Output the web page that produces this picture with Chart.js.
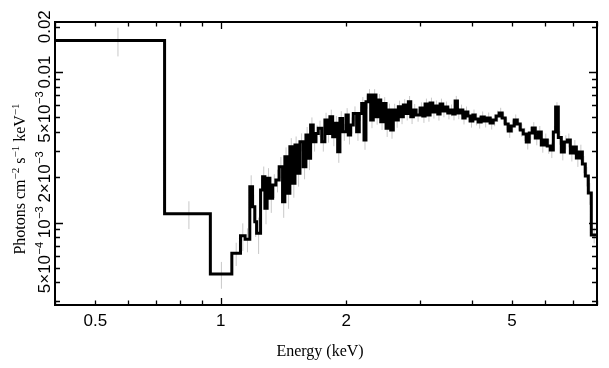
<!DOCTYPE html>
<html><head><meta charset="utf-8">
<script src="https://cdn.jsdelivr.net/npm/chart.js@4.4.1/dist/chart.umd.min.js"></script>
<style>html,body{margin:0;padding:0;background:#fff;}#wrap{width:609px;height:368px;position:relative;}</style>
</head><body><div id="wrap"><canvas id="c" width="609" height="368"></canvas></div>
<script>
// Bin edges (keV)
const binEdges = [0.4, 0.733, 0.944, 1.063, 1.115, 1.144, 1.174, 1.192, 1.207, 1.219, 1.246, 1.260, 1.276, 1.292, 1.312, 1.332, 1.356, 1.381, 1.407, 1.425, 1.444, 1.465, 1.488, 1.507, 1.526, 1.549, 1.577, 1.601, 1.622, 1.643, 1.667, 1.692, 1.714, 1.747, 1.778, 1.801, 1.828, 1.856, 1.880, 1.908, 1.932, 1.961, 1.998, 2.023, 2.050, 2.080, 2.119, 2.150, 2.179, 2.207, 2.231, 2.260, 2.290, 2.323, 2.358, 2.389, 2.421, 2.456, 2.493, 2.524, 2.558, 2.595, 2.634, 2.668, 2.704, 2.743, 2.784, 2.820, 2.858, 2.899, 2.943, 3.009, 3.054, 3.093, 3.140, 3.180, 3.228, 3.269, 3.318, 3.361, 3.411, 3.455, 3.507, 3.552, 3.606, 3.652, 3.699, 3.754, 3.811, 3.860, 3.918, 3.968, 4.028, 4.079, 4.148, 4.217, 4.288, 4.360, 4.433, 4.507, 4.582, 4.659, 4.737, 4.817, 4.897, 4.979, 5.063, 5.148, 5.234, 5.322, 5.411, 5.501, 5.594, 5.687, 5.783, 5.880, 5.978, 6.078, 6.180, 6.284, 6.364, 6.460, 6.568, 6.678, 6.790, 6.904, 7.020, 7.137, 7.257, 7.378, 7.499, 7.625, 7.752, 8.0];
// Unfolded flux per bin (photons cm^-2 s^-1 keV^-1)
const flux = [0.0162, 1.144e-3, 0.455e-3, 0.624e-3, 0.817e-3, 0.774e-3, 1.729e-3, 1.273e-3, 1.012e-3, 0.848e-3,
 1.644e-3, 2.014e-3, 1.243e-3, 1.966e-3, 1.448e-3, 1.774e-3, 1.915e-3, 2.347e-3, 1.374e-3, 2.735e-3,
 1.563e-3, 3.186e-3, 1.821e-3, 3.270e-3, 2.122e-3, 3.440e-3, 2.347e-3, 3.811e-3, 2.669e-3, 4.441e-3,
 3.440e-3, 3.911e-3, 4.223e-3, 3.440e-3, 4.793e-3, 3.911e-3, 5.041e-3, 3.713e-3, 4.558e-3, 2.952e-3,
 4.920e-3, 4.008e-3, 5.174e-3, 3.811e-3, 4.441e-3, 5.311e-3, 4.008e-3, 5.311e-3, 6.186e-3, 3.530e-3,
 6.339e-3, 7.025e-3, 4.793e-3, 7.025e-3, 5.041e-3, 6.507e-3, 4.670e-3, 6.186e-3, 4.223e-3, 5.585e-3,
 4.114e-3, 5.585e-3, 4.793e-3, 5.873e-3, 5.041e-3, 6.027e-3, 5.311e-3, 6.339e-3, 5.041e-3, 5.585e-3,
 5.174e-3, 5.758e-3, 5.095e-3, 6.120e-3, 5.174e-3, 6.215e-3, 5.417e-3, 5.935e-3, 5.253e-3, 6.120e-3,
 5.500e-3, 5.846e-3, 5.335e-3, 5.585e-3, 5.253e-3, 6.408e-3, 5.335e-3, 5.585e-3, 4.943e-3, 5.417e-3,
 5.095e-3, 4.721e-3, 5.174e-3, 4.868e-3, 4.649e-3, 5.018e-3, 4.721e-3, 4.943e-3, 4.579e-3, 4.793e-3,
 5.095e-3, 5.335e-3, 4.943e-3, 4.510e-3, 4.052e-3, 4.373e-3, 4.793e-3, 4.510e-3, 4.114e-3, 3.869e-3,
 3.424e-3, 3.929e-3, 4.242e-3, 3.639e-3, 3.990e-3, 3.270e-3, 3.530e-3, 3.221e-3, 3.030e-3, 3.990e-3,
 5.846e-3, 3.667e-3, 2.938e-3, 3.424e-3, 3.530e-3, 2.893e-3, 3.172e-3, 2.681e-3, 2.938e-3, 2.445e-3,
 2.036e-3, 1.570e-3, 0.826e-3];
// 1-sigma error per bin
const fluxErr = [3.5e-3, 0.24e-3, 0.092e-3, 0.11e-3, 0.17e-3, 0.14e-3, 0.33e-3, 0.26e-3, 0.21e-3, 0.23e-3,
 0.30e-3, 0.34e-3, 0.27e-3, 0.33e-3, 0.29e-3, 0.32e-3, 0.33e-3, 0.38e-3, 0.30e-3, 0.42e-3,
 0.33e-3, 0.45e-3, 0.36e-3, 0.46e-3, 0.39e-3, 0.47e-3, 0.41e-3, 0.50e-3, 0.44e-3, 0.55e-3,
 0.48e-3, 0.51e-3, 0.53e-3, 0.48e-3, 0.57e-3, 0.52e-3, 0.58e-3, 0.50e-3, 0.55e-3, 0.46e-3,
 0.57e-3, 0.52e-3, 0.58e-3, 0.51e-3, 0.55e-3, 0.60e-3, 0.52e-3, 0.59e-3, 0.64e-3, 0.49e-3,
 0.64e-3, 0.68e-3, 0.56e-3, 0.67e-3, 0.57e-3, 0.63e-3, 0.55e-3, 0.62e-3, 0.52e-3, 0.58e-3,
 0.51e-3, 0.57e-3, 0.53e-3, 0.58e-3, 0.54e-3, 0.58e-3, 0.55e-3, 0.59e-3, 0.53e-3, 0.55e-3,
 0.50e-3, 0.53e-3, 0.50e-3, 0.54e-3, 0.50e-3, 0.54e-3, 0.51e-3, 0.53e-3, 0.50e-3, 0.53e-3,
 0.50e-3, 0.52e-3, 0.49e-3, 0.50e-3, 0.48e-3, 0.53e-3, 0.48e-3, 0.49e-3, 0.46e-3, 0.48e-3,
 0.46e-3, 0.45e-3, 0.46e-3, 0.45e-3, 0.44e-3, 0.45e-3, 0.44e-3, 0.44e-3, 0.43e-3, 0.43e-3,
 0.44e-3, 0.45e-3, 0.43e-3, 0.42e-3, 0.40e-3, 0.41e-3, 0.43e-3, 0.42e-3, 0.40e-3, 0.39e-3,
 0.37e-3, 0.39e-3, 0.40e-3, 0.38e-3, 0.39e-3, 0.36e-3, 0.37e-3, 0.36e-3, 0.35e-3, 0.39e-3,
 0.46e-3, 0.38e-3, 0.35e-3, 0.37e-3, 0.37e-3, 0.35e-3, 0.36e-3, 0.34e-3, 0.35e-3, 0.32e-3,
 0.30e-3, 0.26e-3, 0.10e-3];

const xTickValues = [0.5, 1, 2, 5];
const xTickLabels = ['0.5', '1', '2', '5'];
const yTickValues = [5e-4, 1e-3, 2e-3, 5e-3, 0.01, 0.02];
const yTickBase = ['5×10', '10', '2×10', '5×10', '0.01', '0.02'];
const yTickSup = ['−4', '−3', '−3', '−3', '', ''];
const xTitle = 'Energy (keV)';
const yTitleText = ['Photons cm', '−2', ' s', '−1', ' keV', '−1'];

const n = Math.min(flux.length, binEdges.length - 1);
const stepData = [];
for (let i = 0; i < n; i++) stepData.push({x: binEdges[i], y: flux[i]});
stepData.push({x: binEdges[n], y: flux[n - 1]});
const errData = [];
for (let i = 0; i < n; i++) {
  const xc = (binEdges[i] + binEdges[i + 1]) / 2;
  errData.push({x: xc, y: flux[i] - fluxErr[i]}, {x: xc, y: flux[i] + fluxErr[i]}, {x: xc, y: null});
}

const SANS = '"Liberation Sans", Arial, Helvetica, sans-serif';
const SERIF = '"Liberation Serif", "Times New Roman", serif';

const framePlugin = {
  id: 'frame',
  afterDraw(chart) {
    const ctx = chart.ctx, a = chart.chartArea;
    const xs = chart.scales.x, ys = chart.scales.y;
    ctx.save();
    ctx.strokeStyle = '#000';
    ctx.lineWidth = 1.3;
    for (let e = -1; e <= 1; e++) {
      for (let m = 1; m <= 9; m++) {
        const v = m * Math.pow(10, e);
        if (v < xs.min - 1e-9 || v > xs.max + 1e-9) continue;
        const px = Math.round(xs.getPixelForValue(v)) + 0.5;
        const L = (m === 1) ? 7 : 4.5;
        ctx.beginPath();
        ctx.moveTo(px, a.bottom); ctx.lineTo(px, a.bottom - L);
        ctx.moveTo(px, a.top); ctx.lineTo(px, a.top + L);
        ctx.stroke();
      }
    }
    for (let e = -4; e <= -1; e++) {
      for (let m = 1; m <= 9; m++) {
        const v = m * Math.pow(10, e);
        if (v < ys.min || v > ys.max) continue;
        const py = Math.round(ys.getPixelForValue(v)) + 0.5;
        const L = (m === 1) ? 8 : 5;
        ctx.beginPath();
        ctx.moveTo(a.left, py); ctx.lineTo(a.left + L, py);
        ctx.moveTo(a.right, py); ctx.lineTo(a.right - L, py);
        ctx.stroke();
      }
    }
    ctx.lineWidth = 2;
    ctx.strokeRect(a.left, a.top, a.right - a.left, a.bottom - a.top);

    ctx.fillStyle = '#000';
    ctx.font = '17px ' + SANS;
    ctx.textAlign = 'center';
    ctx.textBaseline = 'alphabetic';
    xTickValues.forEach((v, i) => {
      ctx.fillText(xTickLabels[i], xs.getPixelForValue(v), 325.5);
    });
    ctx.font = '16px ' + SERIF;
    ctx.fillText(xTitle, (a.left + a.right) / 2 - 6, 356);

    yTickValues.forEach((v, i) => {
      const py = ys.getPixelForValue(v);
      ctx.save();
      ctx.translate(49.5, py);
      ctx.rotate(-Math.PI / 2);
      ctx.textAlign = 'left';
      ctx.font = '17px ' + SANS;
      const wb = ctx.measureText(yTickBase[i]).width;
      ctx.font = '11px ' + SANS;
      const ws = yTickSup[i] ? ctx.measureText(yTickSup[i]).width : 0;
      const x0 = -(wb + ws) / 2;
      ctx.font = '17px ' + SANS;
      ctx.fillText(yTickBase[i], x0, 0);
      if (yTickSup[i]) {
        ctx.font = '11px ' + SANS;
        ctx.fillText(yTickSup[i], x0 + wb + 0.5, -7);
      }
      ctx.restore();
    });

    ctx.save();
    ctx.translate(25, 179);
    ctx.rotate(-Math.PI / 2);
    ctx.textAlign = 'left';
    let total = 0;
    yTitleText.forEach((t, i) => {
      ctx.font = (i % 2 ? '11px ' : '16px ') + SERIF;
      total += ctx.measureText(t).width;
    });
    let cx = -total / 2;
    yTitleText.forEach((t, i) => {
      const sup = i % 2 === 1;
      ctx.font = (sup ? '11px ' : '16px ') + SERIF;
      ctx.fillText(t, cx, sup ? -6 : 0);
      cx += ctx.measureText(t).width;
    });
    ctx.restore();
    ctx.restore();
  }
};

new Chart(document.getElementById('c'), {
  type: 'line',
  data: {
    datasets: [
      {data: stepData, borderColor: '#000', borderWidth: 3, pointRadius: 0, stepped: true, fill: false, order: 0, borderJoinStyle: 'miter'},
      {data: errData, borderColor: '#c8c8c8', borderWidth: 1, pointRadius: 0, spanGaps: false, fill: false, order: 1}
    ]
  },
  options: {
    responsive: false, animation: false, devicePixelRatio: 1,
    layout: {padding: {left: 0, top: 22, right: 12, bottom: 0}},
    plugins: {legend: {display: false}, tooltip: {enabled: false}},
    scales: {
      x: {type: 'logarithmic', min: 0.4, max: 8, grid: {display: false}, border: {display: false},
          ticks: {display: false}, afterFit(s) { s.height = 63; }},
      y: {type: 'logarithmic', min: 2.83e-4, max: 0.0215, grid: {display: false}, border: {display: false},
          ticks: {display: false}, afterFit(s) { s.width = 55; }}
    }
  },
  plugins: [framePlugin]
});
</script></body></html>
